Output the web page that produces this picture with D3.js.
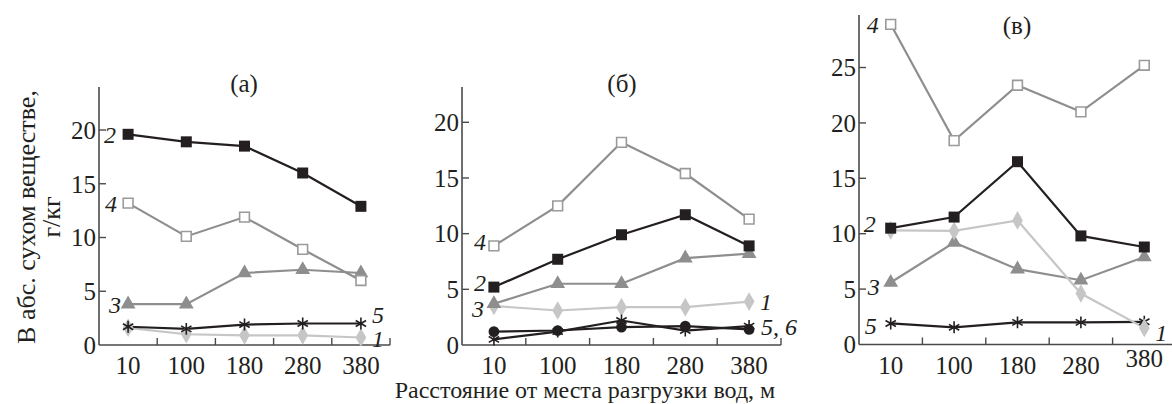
<!DOCTYPE html>
<html><head><meta charset="utf-8">
<script src="https://cdn.jsdelivr.net/npm/d3@7"></script>
<style>
html,body{margin:0;padding:0;background:#fff;}
svg, svg text{font-family:"Liberation Serif","Times New Roman","DejaVu Serif",serif;}
</style></head>
<body><svg id="c" width="1172" height="404"></svg>
<script>
const categories = ["10","100","180","280","380"];

// panel (а)
const a_s1 = [1.6, 1.0, 0.9, 0.9, 0.7];
const a_s2 = [19.6, 18.9, 18.5, 16.0, 12.9];
const a_s3 = [3.8, 3.8, 6.7, 7.0, 6.7];
const a_s4 = [13.2, 10.1, 11.9, 8.9, 6.0];
const a_s5 = [1.7, 1.5, 1.9, 2.0, 2.0];
const a_ticks = [0, 5, 10, 15, 20];

// panel (б)
const b_s1 = [3.5, 3.1, 3.4, 3.4, 3.9];
const b_s2 = [5.2, 7.7, 9.9, 11.7, 8.9];
const b_s3 = [3.7, 5.5, 5.5, 7.8, 8.2];
const b_s4 = [8.9, 12.5, 18.2, 15.4, 11.3];
const b_s5 = [0.5, 1.2, 2.2, 1.3, 1.7];
const b_s6 = [1.2, 1.3, 1.6, 1.7, 1.4];
const b_ticks = [0, 5, 10, 15, 20];

// panel (в)
const c_s1 = [10.3, 10.25, 11.2, 4.6, 1.5];
const c_s2 = [10.5, 11.5, 16.5, 9.8, 8.8];
const c_s3 = [5.6, 9.2, 6.8, 5.8, 7.9];
const c_s4 = [28.9, 18.4, 23.4, 21.0, 25.2];
const c_s5 = [1.9, 1.55, 2.0, 2.0, 2.05];
const c_ticks = [0, 5, 10, 15, 20, 25];

const titles = ["(а)", "(б)", "(в)"];
const yTitle1 = "В абс. сухом веществе,";
const yTitle2 = "г/кг";
const xTitle = "Расстояние от места разгрузки вод, м";

const FONT = "Liberation Serif, Times New Roman, DejaVu Serif, serif";
const BLACK = "#231f20", GRAY = "#8e8e8e", LIGHT = "#c6c6c6";
const styles = {
  s1: {color: LIGHT, sym: d3.symbolDiamond, size: 100, fill: LIGHT, stroke: "none"},
  s2: {color: BLACK, sym: d3.symbolSquare, size: 121, fill: BLACK, stroke: "none"},
  s3: {color: GRAY, sym: d3.symbolTriangle, size: 95, fill: GRAY, stroke: "none"},
  s4: {color: GRAY, sym: d3.symbolSquare, size: 95, fill: "#fff", stroke: "#9a9a9a"},
  s5: {color: BLACK, sym: d3.symbolAsterisk, size: 100, fill: "none", stroke: BLACK},
  s6: {color: BLACK, sym: d3.symbolCircle, size: 90, fill: BLACK, stroke: "none"}
};

const panels = [
  {x0: 99, x1: 390, yr: [345, 87], ymax: 24.0, ticks: a_ticks, title: titles[0], tx: 244, ty: 83,
   series: [["s1", a_s1], ["s5", a_s5], ["s3", a_s3], ["s4", a_s4], ["s2", a_s2]],
   labels: [{t:"2", i:0, v:19.6, dx:-18}, {t:"4", i:0, v:13.2, dx:-17}, {t:"3", i:0, v:3.8, dx:-13},
            {t:"5", i:4, v:2.8, dx:17}, {t:"1", i:4, v:0.6, dx:17}]},
  {x0: 462, x1: 781, yr: [345, 87], ymax: 23.17, ticks: b_ticks, title: titles[1], tx: 622, ty: 83,
   series: [["s1", b_s1], ["s3", b_s3], ["s4", b_s4], ["s2", b_s2], ["s6", b_s6], ["s5", b_s5]],
   labels: [{t:"4", i:0, v:9.3, dx:-14}, {t:"2", i:0, v:5.6, dx:-14}, {t:"3", i:0, v:3.3, dx:-16},
            {t:"1", i:4, v:3.9, dx:17, a:"middle"}, {t:"5, 6", i:4, v:1.65, dx:12, a:"start"}]},
  {x0: 859, x1: 1176, yr: [344.5, 15], ymax: 29.74, ticks: c_ticks, title: titles[2], tx: 1017, ty: 25,
   series: [["s5", c_s5], ["s3", c_s3], ["s1", c_s1], ["s2", c_s2], ["s4", c_s4]],
   labels: [{t:"4", i:0, v:28.9, dx:-18}, {t:"2", i:0, v:10.9, dx:-21}, {t:"3", i:0, v:5.2, dx:-17},
            {t:"5", i:0, v:1.75, dx:-20}, {t:"1", i:4, v:1.1, dx:17}], raiseLast: true}
];

const svg = d3.select("#c");
const FS = 25, LFS = 24;

panels.forEach(p => {
  const x = d3.scaleBand().domain(categories).range([p.x0, p.x1]).paddingInner(0).paddingOuter(0);
  const y = d3.scaleLinear().domain([0, p.ymax]).range(p.yr);
  const g = svg.append("g");
  const y0 = y(0);

  g.append("line").attr("x1", p.x0).attr("x2", p.x0).attr("y1", y0).attr("y2", p.yr[1])
    .attr("stroke", "#4a4a4a").attr("stroke-width", 1.6);
  g.append("line").attr("x1", p.x0).attr("x2", p.x1).attr("y1", y0).attr("y2", y0)
    .attr("stroke", "#4a4a4a").attr("stroke-width", 1.6);

  const bounds = categories.map(c => x(c) + x.bandwidth()).filter(v => v <= 1172);
  g.selectAll(".xt").data(bounds).join("line")
    .attr("x1", d => d).attr("x2", d => d).attr("y1", y0).attr("y2", y0 - 7)
    .attr("stroke", "#4a4a4a").attr("stroke-width", 1.4);
  g.selectAll(".xl").data(categories).join("text")
    .attr("x", d => x(d) + x.bandwidth() / 2)
    .attr("y", (d, i) => y0 + 29 - (p.raiseLast && i === categories.length - 1 ? 7 : 0))
    .attr("text-anchor", "middle").attr("font-family", FONT).attr("font-size", FS).attr("fill", BLACK).text(d => d);

  g.selectAll(".yt").data(p.ticks.filter(t => t > 0)).join("line")
    .attr("x1", p.x0).attr("x2", p.x0 + 7).attr("y1", d => y(d)).attr("y2", d => y(d))
    .attr("stroke", "#4a4a4a").attr("stroke-width", 1.4);
  g.selectAll(".yl").data(p.ticks).join("text")
    .attr("x", p.x0 - 3).attr("y", d => y(d)).attr("dy", "0.35em")
    .attr("text-anchor", "end").attr("font-family", FONT).attr("font-size", FS).attr("fill", BLACK).text(d => d);

  g.append("text").attr("x", p.tx).attr("y", p.ty).attr("dy", "0.35em")
    .attr("text-anchor", "middle").attr("font-family", FONT).attr("font-size", FS).attr("fill", BLACK).text(p.title);

  const line = d3.line().x((d, i) => x(categories[i]) + x.bandwidth() / 2).y(d => y(d));
  p.series.forEach(([key, vals]) => {
    const st = styles[key];
    g.append("path").datum(vals).attr("d", line).attr("fill", "none")
      .attr("stroke", st.color).attr("stroke-width", 2.2);
  });
  p.series.forEach(([key, vals]) => {
    const st = styles[key];
    g.selectAll(null).data(vals).join("path")
      .attr("transform", (d, i) => `translate(${x(categories[i]) + x.bandwidth() / 2},${y(d)})`)
      .attr("d", d3.symbol(st.sym, st.size)())
      .attr("fill", st.fill).attr("stroke", st.stroke).attr("stroke-width", 1.6);
  });

  g.selectAll(".sl").data(p.labels).join("text")
    .attr("x", d => x(categories[d.i]) + x.bandwidth() / 2 + d.dx)
    .attr("y", d => y(d.v)).attr("dy", "0.35em")
    .attr("text-anchor", d => d.a || "middle")
    .attr("font-family", FONT).attr("font-size", LFS).attr("font-style", "italic").attr("fill", BLACK).text(d => d.t);
});

svg.append("text").attr("transform", "translate(26,217) rotate(-90)")
  .attr("text-anchor", "middle").attr("dy", "0.35em").attr("font-family", FONT).attr("font-size", 26).attr("fill", BLACK).text(yTitle1);
svg.append("text").attr("transform", "translate(51,217) rotate(-90)")
  .attr("text-anchor", "middle").attr("dy", "0.35em").attr("font-family", FONT).attr("font-size", 26).attr("fill", BLACK).text(yTitle2);
svg.append("text").attr("x", 585).attr("y", 390).attr("dy", "0.35em")
  .attr("text-anchor", "middle").attr("font-family", FONT).attr("font-size", 24).attr("fill", BLACK).text(xTitle);
</script></body></html>
